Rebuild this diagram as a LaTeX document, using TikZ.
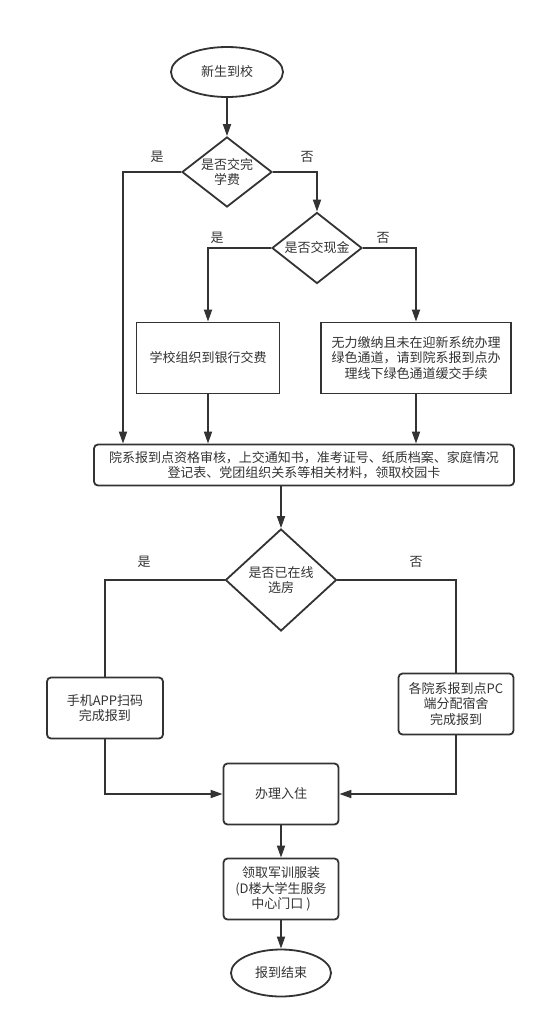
\documentclass[tikz,border=0pt]{standalone}
\usepackage{fontspec}
\setmainfont{Noto Sans CJK SC}
\usetikzlibrary{arrows.meta,shapes.geometric}
\definecolor{ink}{HTML}{333333}

\begin{document}
\begin{tikzpicture}[x=1pt,y=-1pt,
  font=\fontsize{13}{15.5}\selectfont,
  every node/.style={text=ink},
  terminal/.style={ellipse, draw=ink, line width=1.8pt, minimum width=112pt, minimum height=50pt, inner sep=0pt},
  decision/.style={diamond, draw=ink, line width=1.8pt, inner sep=0pt, align=center},
  process/.style={rectangle, draw=ink, line width=1.8pt, inner sep=0pt, align=center},
  roundproc/.style={process, rounded corners=4pt},
  link/.style={draw=ink, line width=1.8pt},
  arrow/.style={link, -{Triangle[length=12pt,width=8pt]}}
]
\useasboundingbox (0,0) rectangle (546,1029);
\node[terminal] (start) at (227,72) {新生到校};
\node[decision, minimum width=90pt, minimum height=70pt, aspect=1.29] (paid) at (227,172) {是否交完\\学费};
\node[decision, minimum width=90pt, minimum height=71pt, aspect=1.27] (cash) at (317,248) {是否交现金};
\node[process, minimum width=143pt, minimum height=71pt] (bank) at (208,358) {学校组织到银行交费};
\node[process, minimum width=190pt, minimum height=71pt] (green) at (416,358) {无力缴纳且未在迎新系统办理\\绿色通道，请到院系报到点办\\理线下绿色通道缓交手续};
\node[roundproc, minimum width=420pt, minimum height=41pt] (check) at (304,465) {院系报到点资格审核，上交通知书，准考证号、纸质档案、家庭情况\\登记表、党团组织关系等相关材料，领取校园卡};
\node[decision, minimum width=111pt, minimum height=102pt, aspect=1.09] (room) at (281,580) {是否已在线\\选房};
\node[roundproc, minimum width=116pt, minimum height=61pt] (app) at (105,708) {手机APP扫码\\完成报到};
\node[roundproc, minimum width=115pt, minimum height=61pt] (pc) at (456,704) {各院系报到点PC\\端分配宿舍\\完成报到};
\node[roundproc, minimum width=115pt, minimum height=61pt] (stay) at (281,794) {办理入住};
\node[roundproc, minimum width=115pt, minimum height=61pt] (uniform) at (281,889) {领取军训服装\\(D楼大学生服务\\中心门口 )};
\node[terminal, minimum width=100pt, minimum height=47pt] (finish) at (281,973) {报到结束};
% branch labels
\node (paidyes) at (157,157) {是};
\node (paidno) at (307,157) {否};
\node (cashyes) at (217,238) {是};
\node (cashno) at (383,238) {否};
\node (roomyes) at (144,562) {是};
\node (roomno) at (416,562) {否};
\coordinate (feecol) at (123,172);
% connectors
\draw[arrow] (start) -- (paid);
\draw[arrow] (paid.west) -- (feecol) -- (feecol |- check.north);
\draw[arrow] (paid.east) -| (cash.north);
\draw[arrow] (cash.west) -| (bank.north);
\draw[arrow] (cash.east) -| (green.north);
\draw[arrow] (bank.south) -- (bank.south |- check.north);
\draw[arrow] (green.south) -- (green.south |- check.north);
\draw[arrow] (check.south -| room.north) -- (room.north);
\draw[link] (room.west) -| (app.north);
\draw[link] (room.east) -| (pc.north);
\draw[arrow] (app.south) |- (stay.west);
\draw[arrow] (pc.south) |- (stay.east);
\draw[arrow] (stay) -- (uniform);
\draw[arrow] (uniform) -- (finish);
\end{tikzpicture}
\end{document}
